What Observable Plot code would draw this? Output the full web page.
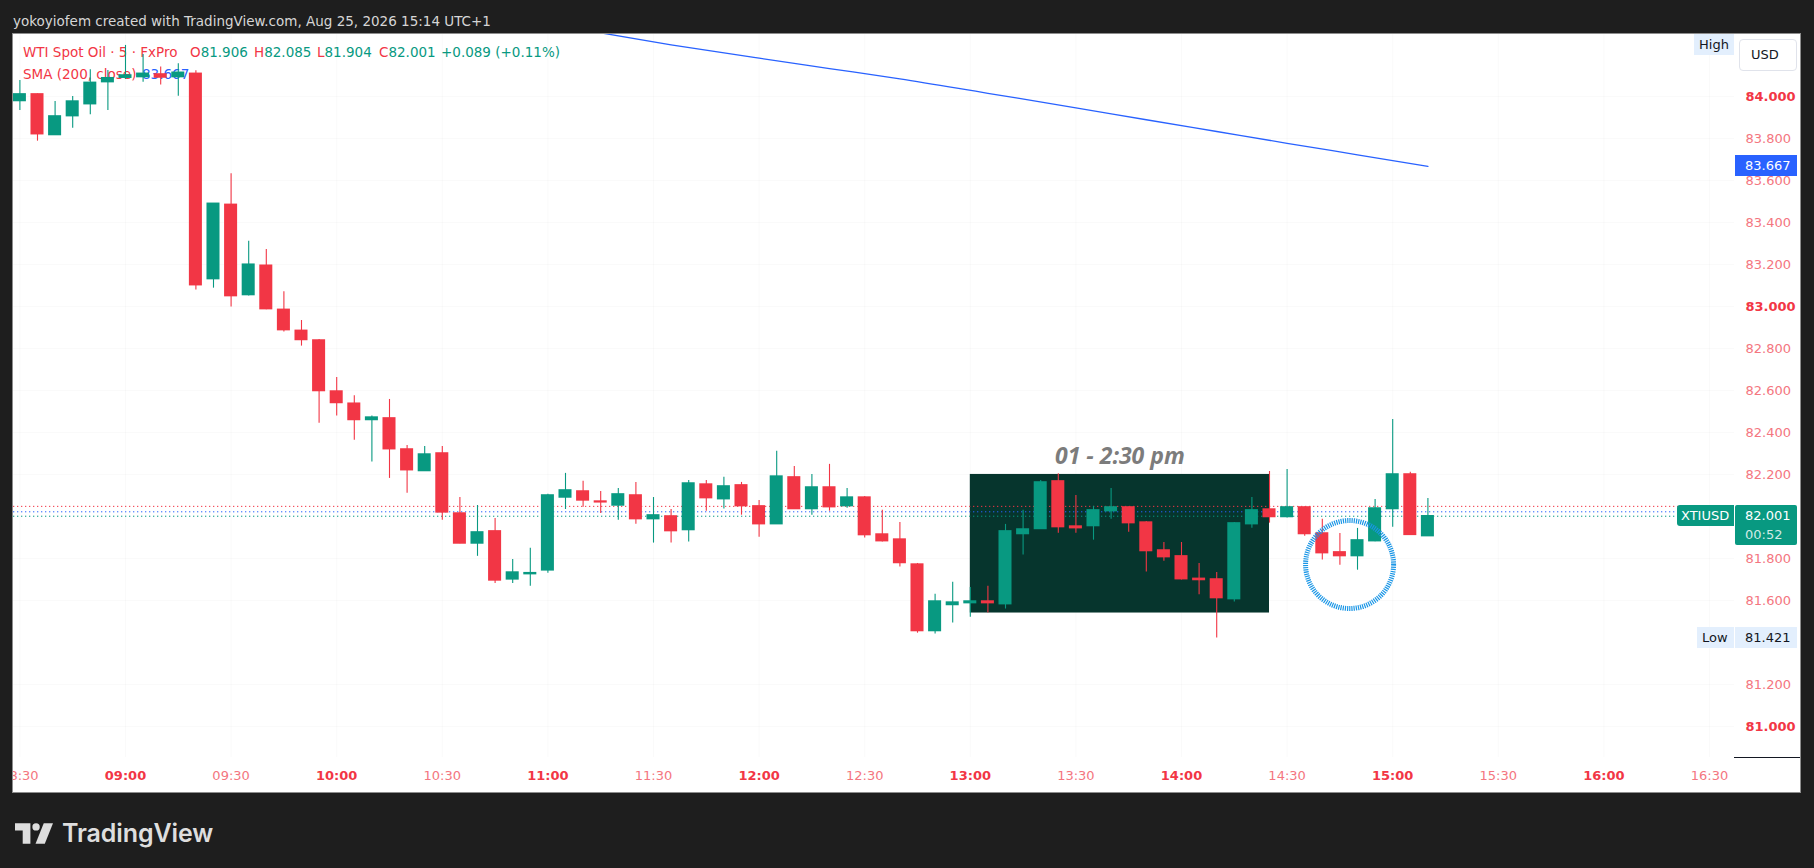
<!DOCTYPE html>
<html><head><meta charset="utf-8">
<script src="https://cdn.jsdelivr.net/npm/d3@7"></script>
<script src="https://cdn.jsdelivr.net/npm/@observablehq/plot@0.6"></script>
<style>
html,body{margin:0;padding:0;background:#1e1e1e;width:1814px;height:868px;overflow:hidden;font-family:"DejaVu Sans",sans-serif;}
#header{position:absolute;left:13px;top:12px;color:#d6d6d6;font-size:13.5px;line-height:18px;white-space:nowrap;}
#panel{position:absolute;left:13px;top:34px;width:1787px;height:758px;background:#fff;outline:1px solid #8d8d8d;overflow:hidden;}
#legend{position:absolute;left:0;top:0;width:700px;height:90px;font-size:13.5px;}
.lg{position:absolute;white-space:nowrap;line-height:16px;}
#chart{position:absolute;left:0;top:0;}
.box{position:absolute;font-size:13px;line-height:21px;height:21px;white-space:nowrap;box-sizing:border-box;}
#footer{position:absolute;left:15px;top:818px;display:flex;align-items:center;}
#footer span{font-family:Inter,sans-serif;font-weight:600;font-size:25px;color:#dedede;margin-left:9px;letter-spacing:-0.1px;}
</style>
</head><body>
<div id="header">yokoyiofem created with TradingView.com, Aug 25, 2026 15:14 UTC+1</div>
<div id="panel">
  <div id="legend"></div>
  <div id="chart"></div>
</div>
<div id="footer">
  <svg width="38" height="21" viewBox="0 0 37 20"><path d="M0 0H15V20H7.5V7H0Z" fill="#dedede"/><circle cx="20.5" cy="3.6" r="3.6" fill="#dedede"/><path d="M28 0H37L29 20H20Z" fill="#dedede"/></svg>
  <span>TradingView</span>
</div>
<script>
// ---- candle data (5-minute bars) ----
const times = ["08:30","08:35","08:40","08:45","08:50","08:55","09:00","09:05","09:10","09:15",
"09:20","09:25","09:30","09:35","09:40","09:45","09:50","09:55","10:00","10:05",
"10:10","10:15","10:20","10:25","10:30","10:35","10:40","10:45","10:50","10:55",
"11:00","11:05","11:10","11:15","11:20","11:25","11:30","11:35","11:40","11:45",
"11:50","11:55","12:00","12:05","12:10","12:15","12:20","12:25","12:30","12:35",
"12:40","12:45","12:50","12:55","13:00","13:05","13:10","13:15","13:20","13:25",
"13:30","13:35","13:40","13:45","13:50","13:55","14:00","14:05","14:10","14:15",
"14:20","14:25","14:30","14:35","14:40","14:45","14:50","14:55","15:00","15:05","15:10"];
const opens = [83.978,84.010,83.816,83.906,83.963,84.068,84.089,84.092,84.105,84.092,
84.108,83.130,83.484,83.054,83.194,82.984,82.884,82.838,82.595,82.537,
82.459,82.467,82.319,82.216,82.300,82.014,81.871,81.929,81.700,81.725,
81.743,82.090,82.119,82.071,82.052,82.100,81.987,82.000,81.935,82.152,
82.082,82.148,82.048,81.963,82.186,82.035,82.138,82.049,82.090,81.914,
81.890,81.771,81.454,81.578,81.587,81.595,81.582,81.916,81.940,82.167,
81.952,81.954,82.025,82.043,81.971,81.838,81.810,81.703,81.700,81.606,
81.963,82.033,81.997,82.043,81.919,81.829,81.811,81.882,82.035,82.200,81.906];
const highs = [84.076,84.012,83.976,84.000,84.127,84.124,84.243,84.200,84.140,84.156,
84.122,83.489,83.632,83.310,83.271,83.070,82.933,82.843,82.662,82.575,
82.478,82.557,82.338,82.333,82.333,82.090,82.052,81.990,81.795,81.848,
82.106,82.205,82.167,82.119,82.133,82.162,82.090,82.033,82.171,82.171,
82.186,82.162,82.076,82.310,82.238,82.200,82.248,82.133,82.095,82.029,
81.971,81.776,81.629,81.686,81.662,81.667,81.962,82.029,82.171,82.203,
82.100,82.048,82.133,82.045,81.976,81.876,81.876,81.776,81.733,81.971,
82.090,82.214,82.224,82.045,81.986,81.919,81.943,82.081,82.462,82.210,82.085];
const lows = [83.933,83.787,83.814,83.849,83.913,83.933,84.081,84.068,84.055,84.001,
83.078,83.087,82.997,83.050,82.984,82.878,82.811,82.444,82.478,82.363,
82.259,82.181,82.110,82.214,81.982,81.870,81.810,81.681,81.681,81.667,
81.730,82.033,82.044,82.014,81.982,81.963,81.873,81.873,81.878,82.025,
82.035,82.006,81.901,81.962,82.033,82.006,82.025,82.039,81.897,81.878,
81.759,81.444,81.440,81.492,81.520,81.540,81.559,81.816,81.940,81.920,
81.920,81.887,81.987,81.925,81.735,81.787,81.697,81.627,81.421,81.592,
81.944,81.968,81.992,81.906,81.792,81.768,81.744,81.880,81.949,81.912,81.904];
const closes = [84.010,83.820,83.905,83.976,84.065,84.087,84.100,84.108,84.090,84.113,
83.101,83.489,83.049,83.199,82.987,82.887,82.840,82.597,82.540,82.459,
82.471,82.320,82.220,82.295,82.019,81.871,81.924,81.695,81.733,81.730,
82.100,82.124,82.076,82.067,82.105,81.987,82.005,81.930,82.157,82.087,
82.143,82.049,81.963,82.190,82.035,82.138,82.044,82.090,81.911,81.882,
81.778,81.454,81.595,81.590,81.595,81.587,81.929,81.938,82.162,81.949,
81.944,82.029,82.043,81.968,81.835,81.806,81.701,81.697,81.611,81.967,
82.029,81.997,82.043,81.916,81.825,81.811,81.886,82.038,82.200,81.912,82.001];

// ---- SMA (200, close) readings ----
const smaTimes = ["11:10","11:35","12:00","12:20","12:40","13:05","13:30","13:50","14:10","14:30","14:50","15:10"];
const smaValues = [84.317,84.246,84.182,84.133,84.084,84.015,83.946,83.889,83.833,83.777,83.722,83.667];

// ---- axis ticks (82.000 and 81.400 sit under the price / Low labels) ----
const hourTicks = ["09:00","10:00","11:00","12:00","13:00","14:00","15:00","16:00"];
const halfTicks = ["08:30","09:30","10:30","11:30","12:30","13:30","14:30","15:30","16:30"];
const priceBold = [81, 83, 84];
const priceRegular = [81.2,81.6,81.8,82.2,82.4,82.6,82.8,83.2,83.4,83.6,83.8];

// ---- price lines, labels, annotations ----
const priceLines = [82.048, 82.022];
const priceLineColors = ["#f23645", "#2962ff"];
const boxTimes = ["13:00","14:25"];
const boxPrices = [81.540, 82.200];
const boxLabel = "01 - 2:30 pm";
const circleCenter = ["14:47:45", 81.771];
const xDomain = ["08:28:11","16:37:06"];
const yDomain = [80.852, 84.295];
const symbol = "XTIUSD";
const countdown = "00:52";

const GREEN = "#089981", RED = "#f23645";
function T(s){const [h,m,sec]=s.split(":").map(Number);return new Date(Date.UTC(2026,7,25,h,m,sec||0));}

const candles = times.map((t,i)=>({t:T(t),open:opens[i],high:highs[i],low:lows[i],close:closes[i],
  color: closes[i]>=opens[i]?GREEN:RED}));
const sma = smaTimes.map((t,i)=>({t:T(t),v:smaValues[i]}));
const HALF = 111000; // half body width in ms
const last = candles[candles.length-1];
const prev = candles[candles.length-2];
const hi = d3.max(highs), lo = d3.min(lows);
const box = {x1:T(boxTimes[0]),x2:T(boxTimes[1]),y1:boxPrices[0],y2:boxPrices[1]};
box.xm = new Date((+box.x1 + +box.x2)/2);

const fmt = d3.utcFormat("%H:%M");
const chart = Plot.plot({
  width: 1787, height: 758,
  marginLeft: 0, marginRight: 66, marginTop: 0, marginBottom: 35,
  style: {background:"transparent", overflow:"hidden", fontFamily:"DejaVu Sans", fontSize:"13px"},
  x: {type:"utc", domain: xDomain.map(T)},
  y: {domain: yDomain},
  color: {type:"identity"},
  marks: [
    Plot.gridX([...hourTicks, ...halfTicks].map(T), {stroke:"#2a2e39", strokeOpacity:0.025}),
    Plot.gridY([...priceBold, ...priceRegular], {stroke:"#2a2e39", strokeOpacity:0.025}),
    Plot.rect([box], {x1:"x1", x2:"x2", y1:"y1", y2:"y2", fill:"#06352d"}),
    Plot.ruleY(priceLines, {y: d=>d, stroke: (d,i)=>priceLineColors[i], strokeDasharray:"1.3,2.7", strokeWidth:1}),
    Plot.ruleY([last.close], {stroke: GREEN, strokeDasharray:"1.3,2.7", strokeWidth:1}),
    Plot.ruleX(candles, {x:"t", y1:"low", y2:"high", stroke:"color", strokeWidth:1.1}),
    Plot.rect(candles, {x1: d=>new Date(+d.t-HALF), x2: d=>new Date(+d.t+HALF), y1:"open", y2:"close", fill:"color", insetTop:-0.7, insetBottom:-0.7}),
    Plot.line(sma, {x:"t", y:"v", stroke:"#2962ff", strokeWidth:1.3, curve:"monotone-x", clip:true}),
    Plot.text([box], {x:"xm", y:"y2", text: ()=>boxLabel, dy:-18, fontSize:23, fontWeight:"bold", fontStyle:"italic", fill:"#7c7c7c", fontFamily:"Open Sans"}),
    Plot.dot([circleCenter], {x: d=>T(d[0]), y: d=>d[1], r:44, stroke:"#1a96e6", strokeWidth:5, strokeDasharray:"1.2,1", fill:"none"}),
    Plot.axisY(priceRegular, {anchor:"right", tickSize:0, tickPadding:11, textAnchor:"start", tickFormat: d=>d.toFixed(3), fill:"#f47680", fontSize:13, label:null}),
    Plot.axisY(priceBold, {anchor:"right", tickSize:0, tickPadding:11, textAnchor:"start", tickFormat: d=>d.toFixed(3), fill:RED, fontWeight:"bold", fontSize:13, label:null}),
    Plot.axisX(halfTicks.map(T), {anchor:"bottom", tickSize:0, tickPadding:13, tickFormat: fmt, fill:"#f47680", fontSize:13, label:null}),
    Plot.axisX(hourTicks.map(T), {anchor:"bottom", tickSize:0, tickPadding:13, tickFormat: fmt, fill:RED, fontWeight:"bold", fontSize:13, label:null})
  ]
});
document.getElementById("chart").appendChild(chart);

// ---- legend ----
const legend = document.getElementById("legend");
function lg(x, y, parts){
  const d = document.createElement("div"); d.className="lg"; d.style.left=x+"px"; d.style.top=y+"px";
  d.innerHTML = parts.map(([t,c])=>`<span style="color:${c}">${t}</span>`).join("");
  legend.appendChild(d);
}
const f3 = v=>v.toFixed(3);
const chg = last.close - prev.close;
lg(10, 10, [["WTI Spot Oil · 5 · FxPro", RED]]);
lg(177, 10, [["O",RED],[f3(last.open),GREEN]]);
lg(241, 10, [["H",RED],[f3(last.high),GREEN]]);
lg(304, 10, [["L",RED],[f3(last.low),GREEN]]);
lg(366, 10, [["C",RED],[f3(last.close),GREEN]]);
lg(428, 10, [[(chg>=0?"+":"")+f3(chg)+" ("+(chg>=0?"+":"")+(chg/prev.close*100).toFixed(2)+"%)", GREEN]]);
lg(10, 32, [["SMA (200, close)", RED]]);
lg(129, 32, [[f3(smaValues[smaValues.length-1]), "#2962ff"]]);

// ---- right-side labels ----
const ys = chart.scale("y");
const panel = document.getElementById("panel");
function bx(left, top, width, text, bg, color, extra){
  const d = document.createElement("div"); d.className="box";
  d.style.left=left+"px"; d.style.top=top+"px"; d.style.width=width+"px";
  d.style.background=bg; d.style.color=color;
  d.innerHTML=text; Object.assign(d.style, extra||{});
  panel.appendChild(d); return d;
}
const yH = ys.apply(hi), yS = ys.apply(smaValues[smaValues.length-1]), yC = ys.apply(last.close), yL = ys.apply(lo);
bx(1681, yH-10.5, 40, "High", "#e3effd", "#131722", {paddingLeft:"5px"});
bx(1726, 5, 58, "USD", "#ffffff", "#131722", {height:"32px", lineHeight:"30px", border:"1px solid #e0e3eb", borderRadius:"4px", paddingLeft:"11px"});
bx(1722, yS-10.5, 62, f3(smaValues[smaValues.length-1]), "#2962ff", "#ffffff", {paddingLeft:"10px"});
bx(1664, yC-10.5, 57, symbol, GREEN, "#ffffff", {paddingLeft:"4px", borderRadius:"3px 0 0 3px"});
bx(1722, yC-10.5, 62, f3(last.close)+'<br><span style="color:rgba(255,255,255,0.82)">'+countdown+'</span>', GREEN, "#ffffff", {height:"40px", lineHeight:"19px", paddingLeft:"10px", paddingTop:"1px", borderRadius:"2px"});
bx(1684, yL-10.5, 37, "Low", "#e3effd", "#131722", {paddingLeft:"5px"});
bx(1722, yL-10.5, 62, f3(lo), "#e3effd", "#131722", {paddingLeft:"10px"});
const ln = document.createElement("div");
Object.assign(ln.style,{position:"absolute",left:"1721px",top:"723px",width:"66px",height:"1px",background:"#131722"});
panel.appendChild(ln);
</script>
</body></html>
